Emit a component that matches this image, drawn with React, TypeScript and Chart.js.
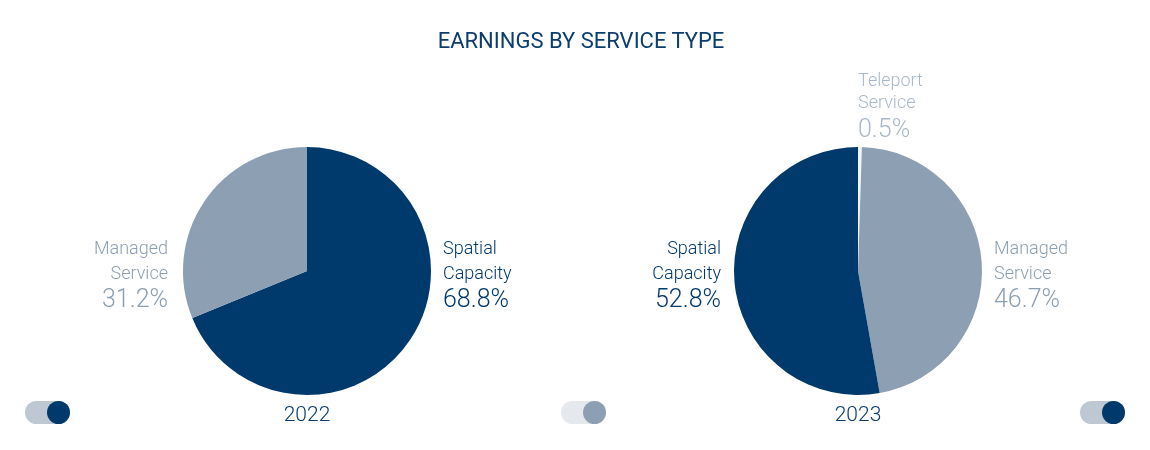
import React, { useEffect, useRef } from 'react';
import { Chart, registerables } from 'chart.js';

Chart.register(...registerables);

const title = 'EARNINGS BY SERVICE TYPE';
const years = ['2022', '2023'];
const categories2022 = ['Spatial Capacity', 'Managed Service'];
const values2022 = [68.8, 31.2];
const categories2023 = ['Teleport Service', 'Managed Service', 'Spatial Capacity'];
const values2023 = [0.5, 46.7, 52.8];

const DARK = '#003a6c';
const GREY = '#8da0b3';
const PALE = '#f1f4f7';
const TEXT_DARK = '#0b3d6e';

const sliceColors: Record<string, string> = {
  'Spatial Capacity': DARK,
  'Managed Service': GREY,
  'Teleport Service': PALE,
};
const labelColors: Record<string, string> = {
  'Spatial Capacity': DARK,
  'Managed Service': '#8c9fb2',
  'Teleport Service': '#a9b8c9',
};

const FONT = 'Roboto, "Noto Sans", sans-serif';

const outsideLabels = {
  id: 'outsideLabels',
  afterDraw(chart: any, _args: any, opts: any) {
    const { ctx, chartArea } = chart;
    const cx = (chartArea.left + chartArea.right) / 2;
    const cy = (chartArea.top + chartArea.bottom) / 2;
    const labels: string[] = chart.data.labels;
    const data: number[] = chart.data.datasets[0].data;
    labels.forEach((lab, i) => {
      const side = opts.sides[i];
      const words = lab.split(' ');
      const pct = data[i].toFixed(1) + '%';
      let x = cx;
      let align: CanvasTextAlign = 'left';
      let b: number[];
      if (side === 'right') {
        x = chartArea.right + 12;
        align = 'left';
        b = [cy - 17, cy + 8, cy + 36];
      } else if (side === 'left') {
        x = chartArea.left - opts.leftGap;
        align = 'right';
        b = [cy - 17, cy + 8, cy + 36];
      } else {
        x = cx;
        align = 'left';
        b = [chartArea.top - 61, chartArea.top - 39, chartArea.top - 10];
      }
      ctx.save();
      ctx.fillStyle = labelColors[lab];
      ctx.textAlign = align;
      ctx.textBaseline = 'alphabetic';
      ctx.font = `300 18px ${FONT}`;
      ctx.fillText(words[0], x, b[0]);
      ctx.fillText(words.slice(1).join(' '), x, b[1]);
      ctx.font = `300 25px ${FONT}`;
      ctx.fillText(pct, x, b[2]);
      ctx.restore();
    });
  },
};

function PieChart(props: {
  labels: string[];
  values: number[];
  sides: string[];
  leftGap: number;
  padding: { left: number; right: number; top: number; bottom: number };
}) {
  const ref = useRef<HTMLCanvasElement | null>(null);
  useEffect(() => {
    if (!ref.current) return;
    const chart = new Chart(ref.current, {
      type: 'pie',
      data: {
        labels: props.labels,
        datasets: [
          {
            data: props.values,
            backgroundColor: props.labels.map((l) => sliceColors[l]),
            borderWidth: 0,
            hoverOffset: 0,
          },
        ],
      },
      options: {
        responsive: false,
        animation: false,
        devicePixelRatio: 1,
        layout: { padding: props.padding },
        plugins: {
          legend: { display: false },
          tooltip: { enabled: false },
          // @ts-ignore
          outsideLabels: { sides: props.sides, leftGap: props.leftGap },
        },
      },
      plugins: [outsideLabels as any],
    });
    return () => chart.destroy();
  }, []);
  return <canvas ref={ref} width={575} height={450} style={{ display: 'block', width: 575, height: 450 }} />;
}

function Toggle(props: { left: number; track: string; knob: string }) {
  return (
    <div style={{ position: 'absolute', left: props.left, top: 401, width: 45, height: 23 }}>
      <div style={{ position: 'absolute', left: 0, top: 0, width: 45, height: 23, borderRadius: 12, background: props.track }} />
      <div style={{ position: 'absolute', left: 22, top: 0, width: 23, height: 23, borderRadius: '50%', background: props.knob }} />
    </div>
  );
}

export default function App() {
  return (
    <div style={{ position: 'absolute', left: 0, top: 0, width: 1150, height: 450, background: '#fff', overflow: 'hidden' }}>
      <div style={{ position: 'absolute', left: 0, top: 0 }}>
        <PieChart
          labels={categories2022}
          values={values2022}
          sides={['right', 'left']}
          leftGap={15}
          padding={{ left: 183, right: 144, top: 147, bottom: 55 }}
        />
      </div>
      <div style={{ position: 'absolute', left: 575, top: 0 }}>
        <PieChart
          labels={categories2023}
          values={values2023}
          sides={['top', 'right', 'left']}
          leftGap={13}
          padding={{ left: 159, right: 168, top: 147, bottom: 55 }}
        />
      </div>
      <div
        style={{
          position: 'absolute', left: 0, top: 30, width: 1162, textAlign: 'center',
          fontFamily: FONT, fontSize: 22, lineHeight: '22px', color: TEXT_DARK, fontWeight: 400,
        }}
      >
        {title}
      </div>
      <div style={{ position: 'absolute', left: 207, top: 404, width: 200, textAlign: 'center', fontFamily: FONT, fontSize: 21, lineHeight: '21px', color: TEXT_DARK, fontWeight: 300 }}>
        {years[0]}
      </div>
      <div style={{ position: 'absolute', left: 758, top: 404, width: 200, textAlign: 'center', fontFamily: FONT, fontSize: 21, lineHeight: '21px', color: TEXT_DARK, fontWeight: 300 }}>
        {years[1]}
      </div>
      <Toggle left={25} track="#bdc8d3" knob={DARK} />
      <Toggle left={561} track="#e5e9ee" knob={GREY} />
      <Toggle left={1080} track="#bdc8d3" knob={DARK} />
    </div>
  );
}
